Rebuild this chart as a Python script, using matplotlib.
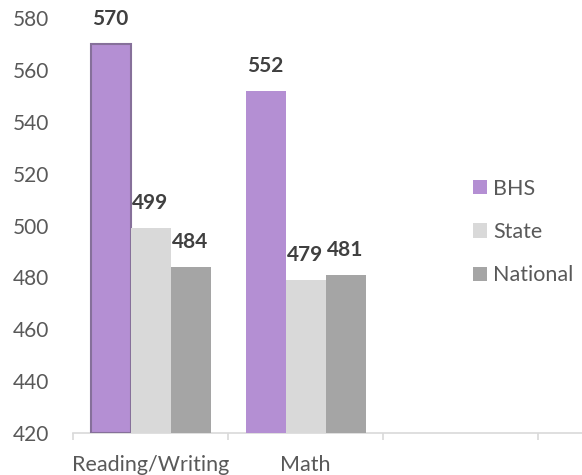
import matplotlib
matplotlib.use("Agg")
import matplotlib.pyplot as plt
from matplotlib.patches import Patch
import numpy as np

plt.rcParams['font.family'] = ['Lato', 'DejaVu Sans']

# --- DATA ---
categories = ["Reading/Writing", "Math", ""]
series = ["BHS", "State", "National"]
bhs = [570, 552]
state = [499, 479]
national = [484, 481]
y_ticks = [420, 440, 460, 480, 500, 520, 540, 560, 580]

colors = {'BHS': '#B48FD3', 'State': '#D9D9D9', 'National': '#A5A5A5'}
values = {'BHS': bhs, 'State': state, 'National': national}

fig = plt.figure(figsize=(5.82, 4.75), dpi=100, facecolor='white')
ax = fig.add_axes([73 / 582, 1 - 433 / 475, 1 - 73 / 582, (433 - 18) / 475])

bw = 40 / 155
offsets = [-bw, 0, bw]
for s, off in zip(series, offsets):
    x = np.arange(len(values[s])) + off
    bars = ax.bar(x, np.array(values[s]) - 420, bottom=420, width=bw,
                  color=colors[s], zorder=3)
    for xi, v in zip(x, values[s]):
        ax.annotate(str(v), (xi, v), xytext=(0, 18), textcoords='offset points',
                    ha='center', va='center', fontsize=15, fontweight='bold',
                    color='#404040', annotation_clip=False)
    if s == 'BHS':
        bars[0].set_edgecolor('#86709A')
        bars[0].set_linewidth(1.5)

ax.set_ylim(420, 580)
ax.set_yticks(y_ticks)
ax.set_xlim(-0.5, (582 - 73) / 155 - 0.5)
ax.set_xticks([0, 1])
ax.set_xticklabels(categories[:2])
ax.set_xticks([-0.5, 0.5, 1.5, 2.5], minor=True)

for sp in ['top', 'right', 'left']:
    ax.spines[sp].set_visible(False)
ax.spines['bottom'].set_color('#D9D9D9')
ax.spines['bottom'].set_linewidth(1.2)
ax.tick_params(axis='y', length=0, pad=17, labelsize=15, labelcolor='#595959')
ax.tick_params(axis='x', which='major', length=0, pad=16, labelsize=15.5, labelcolor='#595959')
ax.tick_params(axis='x', which='minor', length=5, width=1.2, color='#D9D9D9')

handles = [Patch(facecolor=colors[s], label=s) for s in series]
fig.legend(handles=handles, loc='center left', bbox_to_anchor=(473 / 582, 1 - 232 / 475),
           frameon=False, fontsize=15.5, labelcolor='#595959', handlelength=0.65,
           handleheight=0.65, handletextpad=0.3, labelspacing=1.09, borderpad=0,
           borderaxespad=0)

fig.savefig("out.png", dpi=100, facecolor='white')
